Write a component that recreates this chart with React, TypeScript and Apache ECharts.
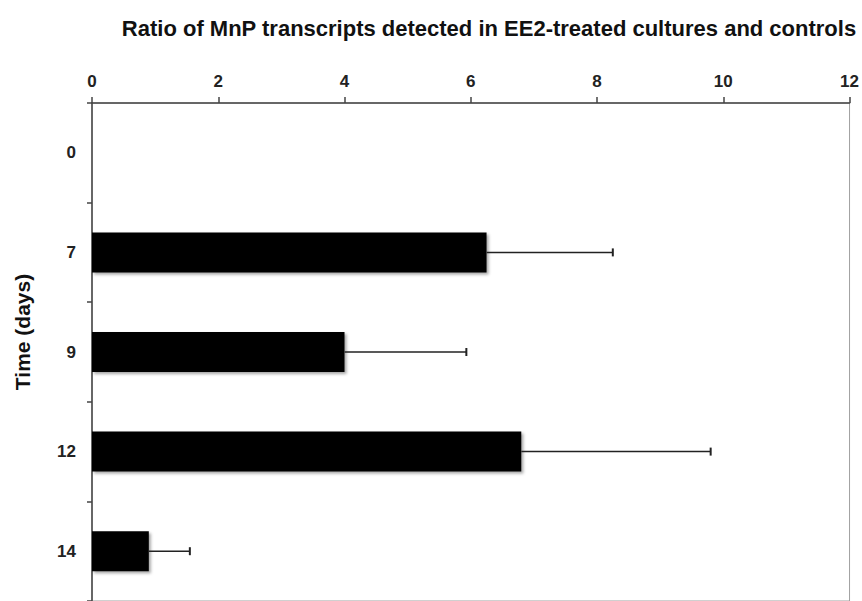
import React, { useEffect, useRef } from "react";
import * as echarts from "echarts";

const categories = ["0", "7", "9", "12", "14"];
const means: (number | null)[] = [null, 6.25, 4.0, 6.8, 0.9];
const errors: (number | null)[] = [null, 2.0, 1.93, 3.0, 0.65];
const xTicks = { min: 0, max: 12, interval: 2 };
const titleText = "Ratio of MnP transcripts detected in EE2-treated cultures and controls";
const yAxisName = "Time (days)";

export default function App() {
  const ref = useRef<HTMLDivElement>(null);
  useEffect(() => {
    if (!ref.current) return;
    const chart = echarts.init(ref.current, null, { renderer: "svg" });
    const errData = categories
      .map((c, i) => (means[i] != null && errors[i] != null ? [means[i], i, (means[i] as number) + (errors[i] as number)] : null))
      .filter((d) => d !== null);
    chart.setOption({
      animation: false,
      backgroundColor: "#ffffff",
      title: {
        text: titleText,
        left: 484,
        textAlign: "center",
        top: 12,
        textStyle: { fontFamily: "Liberation Sans, Arial", fontWeight: "bold", fontSize: 22, color: "#111" },
      },
      graphic: [
        {
          type: "text",
          x: 22,
          y: 332,
          rotation: Math.PI / 2,
          style: {
            text: yAxisName,
            fontFamily: "Liberation Sans, Arial",
            fontWeight: "bold",
            fontSize: 21,
            fill: "#111",
            align: "center",
            verticalAlign: "middle",
          },
        },
      ],
      grid: {
        left: 92,
        right: 12,
        top: 103,
        bottom: -2,
        show: true,
        borderColor: "#a0a0a0",
        borderWidth: 1,
        backgroundColor: "transparent",
      },
      xAxis: {
        type: "value",
        position: "top",
        min: xTicks.min,
        max: xTicks.max,
        interval: xTicks.interval,
        axisLine: { show: true, lineStyle: { color: "#444", width: 1.5 } },
        axisTick: { show: true, length: 6, lineStyle: { color: "#444", width: 1.5 } },
        axisLabel: { fontFamily: "Liberation Sans, Arial", fontWeight: "bold", fontSize: 17, color: "#222", margin: 13 },
        splitLine: { show: false },
      },
      yAxis: {
        type: "category",
        data: categories,
        inverse: true,
        axisLine: { show: true, lineStyle: { color: "#444", width: 1.5 } },
        axisTick: { show: true, length: 5, lineStyle: { color: "#444", width: 1.5 } },
        axisLabel: { fontFamily: "Liberation Sans, Arial", fontWeight: "bold", fontSize: 17, color: "#222", margin: 16 },
      },
      series: [
        {
          type: "bar",
          data: means,
          barWidth: 40,
          itemStyle: {
            color: "#000",
            shadowColor: "rgba(0,0,0,0.35)",
            shadowBlur: 3,
            shadowOffsetX: 2,
            shadowOffsetY: 2,
          },
          silent: true,
        },
        {
          type: "custom",
          data: errData,
          encode: { x: [0, 2], y: 1 },
          renderItem: (params: any, api: any) => {
            const start = api.coord([api.value(0), api.value(1)]);
            const end = api.coord([api.value(2), api.value(1)]);
            const cap = 4;
            return {
              type: "group",
              children: [
                {
                  type: "line",
                  shape: { x1: start[0], y1: start[1], x2: end[0], y2: end[1] },
                  style: { stroke: "#222", lineWidth: 1.5 },
                },
                {
                  type: "line",
                  shape: { x1: end[0], y1: end[1] - cap, x2: end[0], y2: end[1] + cap },
                  style: { stroke: "#222", lineWidth: 2 },
                },
              ],
            };
          },
          z: 3,
        },
      ],
    });
    return () => chart.dispose();
  }, []);
  return <div ref={ref} style={{ position: "fixed", left: 0, top: 0, width: 862, height: 601 }} />;
}
